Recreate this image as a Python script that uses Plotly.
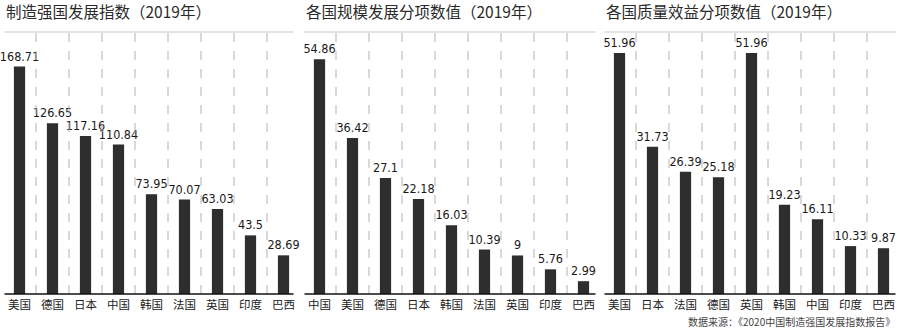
import plotly.graph_objects as go

# --- data -------------------------------------------------------------
titles = [
    "制造强国发展指数（2019年）",
    "各国规模发展分项数值（2019年）",
    "各国质量效益分项数值（2019年）",
]

countries_index = ["美国", "德国", "日本", "中国", "韩国", "法国", "英国", "印度", "巴西"]
values_index = [168.71, 126.65, 117.16, 110.84, 73.95, 70.07, 63.03, 43.5, 28.69]

countries_scale = ["中国", "美国", "德国", "日本", "韩国", "法国", "英国", "印度", "巴西"]
values_scale = [54.86, 36.42, 27.1, 22.18, 16.03, 10.39, 9, 5.76, 2.99]

countries_quality = ["美国", "日本", "法国", "德国", "英国", "韩国", "中国", "印度", "巴西"]
values_quality = [51.96, 31.73, 26.39, 25.18, 51.96, 19.23, 16.11, 10.33, 9.87]

y_max = [194.4, 61.2, 56.5]

source_text = "数据来源：《2020中国制造强国发展指数报告》"

# --- layout helpers ---------------------------------------------------
W, H = 900, 331
CJK = "Noto Sans CJK SC"
NUM = "Liberation Sans Narrow, DejaVu Sans Condensed, Noto Sans CJK SC"
BAR = "#2e2e2e"

panels = [
    (countries_index, values_index),
    (countries_scale, values_scale),
    (countries_quality, values_quality),
]

y_bottom = 294   # baseline, px from top
y_top = 32       # top rule, px from top


def px_x(v):
    return v / W


def px_y(v):
    return 1 - v / H


fig = go.Figure()
shapes = []
annotations = []

for i, (cats, vals) in enumerate(panels):
    xa = "x" if i == 0 else f"x{i + 1}"
    ya = "y" if i == 0 else f"y{i + 1}"
    left = 3 + 300 * i
    right = left + 297

    fig.add_trace(go.Bar(
        x=cats, y=vals,
        xaxis=xa, yaxis=ya,
        marker=dict(color=BAR, line=dict(width=0)),
        width=0.34,
        text=[f"{v:g}" for v in vals],
        textposition="outside",
        constraintext="none",
        textfont=dict(family=NUM, size=12.5, color="#1a1a1a"),
        cliponaxis=False,
        showlegend=False,
        hoverinfo="x+y",
    ))

    axis_x = dict(
        domain=[px_x(left), px_x(right)],
        anchor=ya,
        type="category",
        range=[-0.5, len(cats) - 0.5],
        showgrid=False, zeroline=False, showline=False,
        ticks="",
        tickfont=dict(family=CJK, size=11.5, color="#222"),
        ticklabelstandoff=2,
        fixedrange=True,
    )
    axis_y = dict(
        domain=[px_y(y_bottom), px_y(y_top)],
        anchor=xa,
        range=[0, y_max[i]],
        showgrid=False, zeroline=False, showline=False,
        showticklabels=False, ticks="",
        fixedrange=True,
    )
    fig.update_layout(**{
        ("xaxis" if i == 0 else f"xaxis{i + 1}"): axis_x,
        ("yaxis" if i == 0 else f"yaxis{i + 1}"): axis_y,
    })

    # dashed separators between categories
    for k in range(len(cats) - 1):
        shapes.append(dict(
            type="line", xref=xa, yref=ya,
            x0=k + 0.5, x1=k + 0.5,
            y0=0, y1=y_max[i],
            line=dict(color="#b3b3b3", width=1, dash="dash"),
            layer="above",
        ))

    line_l = 4.5 + 300 * i
    line_r = 293.5 + 300 * i + (2 if i > 0 else 0)
    # top rule
    shapes.append(dict(
        type="line", xref="paper", yref="paper",
        x0=px_x(line_l), x1=px_x(line_r),
        y0=px_y(y_top), y1=px_y(y_top),
        line=dict(color="#c8c8c8", width=1),
    ))
    # baseline
    shapes.append(dict(
        type="line", xref="paper", yref="paper",
        x0=px_x(line_l), x1=px_x(line_r),
        y0=px_y(y_bottom), y1=px_y(y_bottom),
        line=dict(color="#111", width=1.5),
    ))

    annotations.append(dict(
        text=titles[i], xref="paper", yref="paper",
        x=px_x(4 + 300 * i), y=px_y(11.5),
        xanchor="left", yanchor="middle", showarrow=False,
        font=dict(family=CJK, size=15.5, color="#2a2a2a"),
    ))

annotations.append(dict(
    text=source_text, xref="paper", yref="paper",
    x=px_x(897), y=px_y(321.5),
    xanchor="right", yanchor="middle", showarrow=False,
    font=dict(family=CJK, size=10, color="#444"),
))

fig.update_layout(
    width=W, height=H,
    margin=dict(l=0, r=0, t=0, b=0),
    paper_bgcolor="white", plot_bgcolor="rgba(0,0,0,0)",
    shapes=shapes, annotations=annotations,
    bargap=0.6,
)

fig.write_html("out.html", config={"displayModeBar": False})
